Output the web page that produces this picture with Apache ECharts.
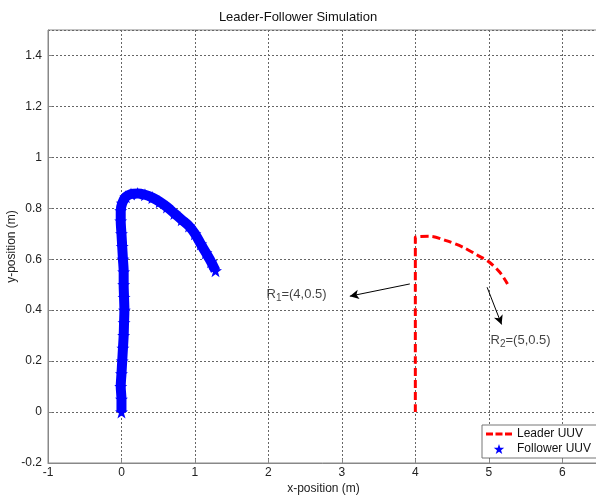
<!DOCTYPE html>
<html>
<head>
<meta charset="utf-8">
<script src="https://cdn.jsdelivr.net/npm/echarts@6/dist/echarts.min.js"></script>
<style>html,body{margin:0;padding:0;background:#fff;}#c{width:596px;height:498px;}</style>
</head>
<body>
<div id="c"></div>
<script>
// Leader UUV trajectory (x, y)
const leaderX = [4.0, 4.0, 4.0, 4.0, 4.0, 4.0, 4.2, 4.42, 4.65, 4.85, 5.0, 5.15, 5.255];
const leaderY = [0.0, 0.2, 0.4, 0.5, 0.6, 0.686, 0.69, 0.673, 0.647, 0.615, 0.59, 0.549, 0.503];
// Follower UUV trajectory (x, y)
const followerX = [0.0, 0.0, -0.01, 0.0, 0.01, 0.02, 0.03, 0.035, 0.04, 0.035, 0.03, 0.03, 0.02, 0.01, 0.0, -0.01, -0.01, 0.01, 0.06, 0.13, 0.22, 0.32, 0.42, 0.52, 0.62, 0.72, 0.82, 0.92, 1.0, 1.08, 1.15, 1.22, 1.28];
const followerY = [0.0, 0.05, 0.1, 0.15, 0.2, 0.25, 0.3, 0.35, 0.4, 0.45, 0.5, 0.55, 0.6, 0.65, 0.7, 0.75, 0.79, 0.82, 0.845, 0.856, 0.858, 0.853, 0.842, 0.826, 0.805, 0.78, 0.755, 0.73, 0.70, 0.66, 0.625, 0.59, 0.555];
// Annotations
const arrowR1 = [[3.925, 0.503], [3.108, 0.455]];
const arrowR2 = [[4.977, 0.49], [5.174, 0.344]];
const labelR1 = [1.974, 0.461];
const labelR2 = [5.024, 0.281];
const xTicks = [-1, 0, 1, 2, 3, 4, 5, 6];
const yTicks = [-0.2, 0, 0.2, 0.4, 0.6, 0.8, 1, 1.2, 1.4];

const zip = (a, b) => a.map((v, i) => [v, b[i]]);
const starPath = 'path://M0,-10 L2.3,-3.2 L9.5,-3.1 L3.7,1.2 L5.9,8.1 L0,4 L-5.9,8.1 L-3.7,1.2 L-9.5,-3.1 L-2.3,-3.2 Z';
const dashPath = 'path://M0,3.5h7v3h-7z M9.5,3.5h7v3h-7z M19,3.5h7v3h-7z M0,0h0.01v10h-0.01z';
const font = 'Liberation Sans, Arial, sans-serif';

const chart = echarts.init(document.getElementById('c'), null, {renderer: 'canvas'});
chart.setOption({
  animation: false,
  backgroundColor: '#fff',
  title: {
    text: 'Leader-Follower Simulation', left: 'center', top: 6,
    textStyle: {fontFamily: font, fontSize: 13, fontWeight: 'normal', color: '#111'}
  },
  grid: {left: 48, right: -3, top: 30, bottom: 35, containLabel: false, outerBoundsMode: 'none',
    show: true, borderColor: '#888', borderWidth: 1, backgroundColor: '#fff'},
  xAxis: {
    type: 'value', min: -1, max: 6.5, interval: 1,
    name: 'x-position (m)', nameLocation: 'middle', nameGap: 20, nameMoveOverlap: false,
    nameTextStyle: {fontFamily: font, fontSize: 12, color: '#222'},
    axisLine: {show: true, onZero: false, lineStyle: {color: '#888'}},
    axisTick: {show: true, inside: true, length: 4, lineStyle: {color: '#888'}},
    axisLabel: {fontFamily: font, fontSize: 12, color: '#222', margin: 4, showMaxLabel: false,
      formatter: v => xTicks.indexOf(Math.round(v * 10) / 10) >= 0 ? String(Math.round(v)) : ''},
    splitLine: {show: true, lineStyle: {color: '#666', type: [2, 2], width: 1}}
  },
  yAxis: {
    type: 'value', min: -0.2, max: 1.5, interval: 0.2,
    name: 'y-position (m)', nameLocation: 'middle', nameGap: 30, nameMoveOverlap: false,
    nameTextStyle: {fontFamily: font, fontSize: 12, color: '#222'},
    axisLine: {show: true, onZero: false, lineStyle: {color: '#888'}},
    axisTick: {show: true, inside: true, length: 4, lineStyle: {color: '#888'}},
    axisLabel: {fontFamily: font, fontSize: 12, color: '#222', margin: 6, showMaxLabel: false,
      formatter: v => { const r = Math.round(v * 10) / 10; return yTicks.indexOf(r) >= 0 ? String(r) : ''; }},
    splitLine: {show: true, lineStyle: {color: '#666', type: [2, 2], width: 1}}
  },
  legend: {
    orient: 'vertical', left: 482, top: 425,
    itemWidth: 26, itemHeight: 10, itemGap: 3,
    padding: [3, 8, 3, 4],
    borderColor: '#777', borderWidth: 1, backgroundColor: '#fff',
    textStyle: {fontFamily: font, fontSize: 12, color: '#111'},
    data: [
      {name: 'Leader UUV', icon: dashPath, itemStyle: {color: '#ff0000'}},
      {name: 'Follower UUV', icon: starPath, itemStyle: {color: '#0000ff'}}
    ]
  },
  series: [
    {
      name: 'Leader UUV', type: 'line', data: zip(leaderX, leaderY),
      smooth: 0.3, showSymbol: false, symbol: 'none',
      lineStyle: {color: '#ff0000', width: 3, type: [8, 4]},
      itemStyle: {color: '#ff0000'},
      z: 3
    },
    {
      name: 'Follower UUV', type: 'line', data: zip(followerX, followerY),
      smooth: 0.3, showSymbol: true, showAllSymbol: true, symbol: starPath, symbolSize: 13,
      lineStyle: {color: '#0000ff', width: 10},
      itemStyle: {color: '#0000ff'},
      z: 3
    },
    {
      name: 'annot', type: 'line', data: [],
      markLine: {
        silent: true, symbol: ['none', 'arrow'], symbolSize: [7, 9],
        lineStyle: {color: '#000', width: 1, type: 'solid'},
        label: {show: false},
        data: [
          [{coord: arrowR1[0]}, {coord: arrowR1[1]}],
          [{coord: arrowR2[0]}, {coord: arrowR2[1]}]
        ]
      }
    },
    {
      name: 'labels', type: 'scatter', symbolSize: 0,
      data: [
        {value: labelR1, label: {formatter: '{a|R}{s|1}{a|=(4,0.5)}'}},
        {value: labelR2, label: {formatter: '{a|R}{s|2}{a|=(5,0.5)}'}}
      ],
      label: {
        show: true, position: 'right', distance: 0, color: '#111',
        rich: {
          a: {fontFamily: font, fontSize: 13, color: '#111'},
          s: {fontFamily: font, fontSize: 10, color: '#111', padding: [8, 0, 0, 0]}
        }
      }
    }
  ]
});
</script>
</body>
</html>
